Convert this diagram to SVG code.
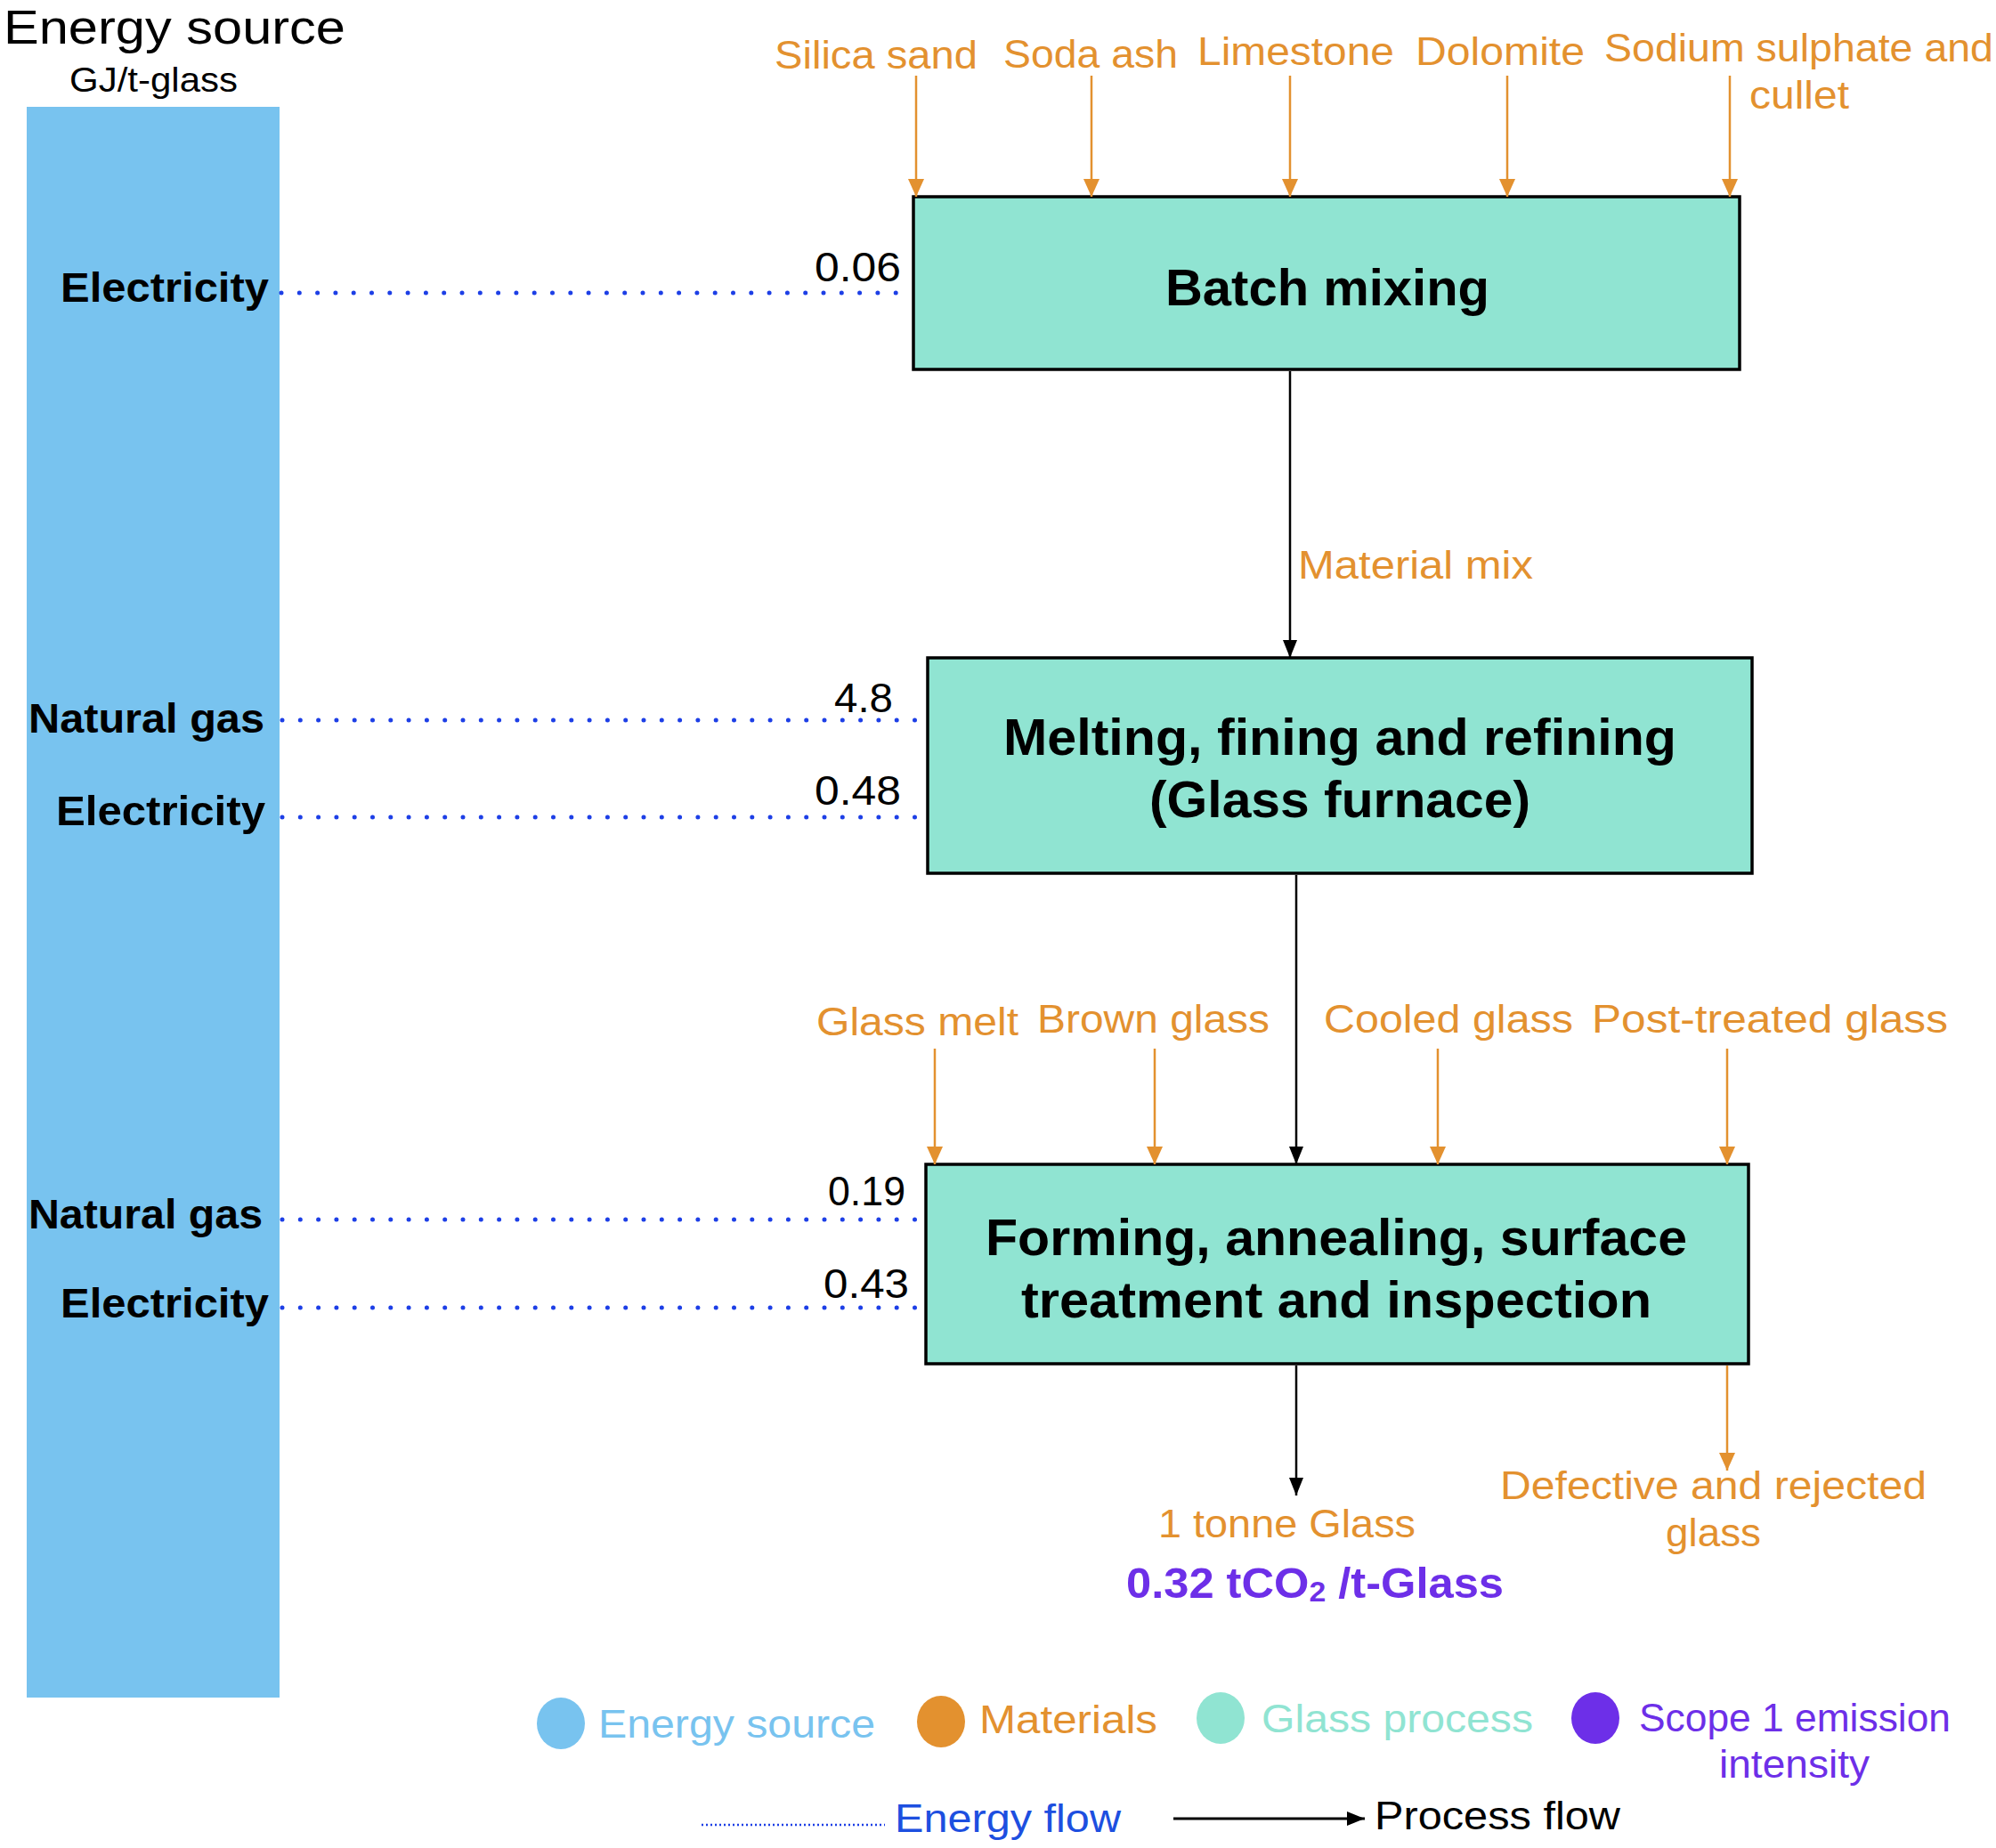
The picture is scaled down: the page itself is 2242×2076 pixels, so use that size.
<svg xmlns="http://www.w3.org/2000/svg" width="2242" height="2076" viewBox="0 0 2242 2076">
<defs>
<style>
text{font-family:"Liberation Sans",Arial,Helvetica,sans-serif}
.t-title{font-size:54px;fill:#000}
.t-unit{font-size:38px;fill:#000}
.t-src{font-size:47px;font-weight:bold;fill:#000}
.t-num{font-size:46px;fill:#000}
.t-proc{font-size:58px;font-weight:bold;fill:#000}
.t-mat{font-size:45px;fill:#E3912F}
.t-leg{font-size:45px}
.box{fill:#90E4D2;stroke:#000;stroke-width:3.5}
.energy{stroke:#1D3FE6;stroke-width:5;stroke-linecap:round;stroke-dasharray:0 20.3;fill:none}
.mat{stroke:#E3912F;stroke-width:2.5;fill:none;marker-end:url(#arrO)}
.flow{stroke:#000;stroke-width:2.5;fill:none;marker-end:url(#arrK)}
</style>
<marker id="arrO" markerUnits="userSpaceOnUse" markerWidth="20" markerHeight="20" refX="20" refY="9" orient="auto" viewBox="0 0 20 18">
<path d="M0,0 L20,9 L0,18 z" fill="#E3912F"/>
</marker>
<marker id="arrK" markerUnits="userSpaceOnUse" markerWidth="20" markerHeight="18" refX="20" refY="8" orient="auto" viewBox="0 0 20 16">
<path d="M0,0 L20,8 L0,16 z" fill="#000"/>
</marker>
</defs>
<rect width="2242" height="2076" fill="#fff"/>

<g id="energy-source">
<text class="t-title" x="4" y="49" textLength="384" lengthAdjust="spacingAndGlyphs">Energy source</text>
<text class="t-unit" x="78" y="103" textLength="189" lengthAdjust="spacingAndGlyphs">GJ/t-glass</text>
<rect x="30" y="120" width="284" height="1787" fill="#78C3EF"/>
<text class="t-src" x="68" y="339" textLength="234" lengthAdjust="spacingAndGlyphs">Electricity</text>
<text class="t-src" x="32" y="823" textLength="265" lengthAdjust="spacingAndGlyphs">Natural gas</text>
<text class="t-src" x="63" y="927" textLength="235" lengthAdjust="spacingAndGlyphs">Electricity</text>
<text class="t-src" x="32" y="1380" textLength="263" lengthAdjust="spacingAndGlyphs">Natural gas</text>
<text class="t-src" x="68" y="1480" textLength="234" lengthAdjust="spacingAndGlyphs">Electricity</text>
</g>

<g id="batch-mixing">
<rect class="box" x="1026" y="221" width="928" height="194"/>
<text class="t-proc" x="1309" y="343" textLength="364" lengthAdjust="spacingAndGlyphs">Batch mixing</text>
</g>

<g id="melting">
<rect class="box" x="1042" y="739" width="926" height="242"/>
<text class="t-proc" x="1127" y="848" textLength="756" lengthAdjust="spacingAndGlyphs">Melting, fining and refining</text>
<text class="t-proc" x="1291" y="918" textLength="428" lengthAdjust="spacingAndGlyphs">(Glass furnace)</text>
</g>

<g id="forming">
<rect class="box" x="1040" y="1308" width="924" height="224"/>
<text class="t-proc" x="1107" y="1410" textLength="788" lengthAdjust="spacingAndGlyphs">Forming, annealing, surface</text>
<text class="t-proc" x="1147" y="1480" textLength="708" lengthAdjust="spacingAndGlyphs">treatment and inspection</text>
</g>

<g id="materials">
<text class="t-mat" x="870" y="77" textLength="228" lengthAdjust="spacingAndGlyphs">Silica sand</text>
<text class="t-mat" x="1127" y="76" textLength="196" lengthAdjust="spacingAndGlyphs">Soda ash</text>
<text class="t-mat" x="1345" y="73" textLength="221" lengthAdjust="spacingAndGlyphs">Limestone</text>
<text class="t-mat" x="1590" y="73" textLength="190" lengthAdjust="spacingAndGlyphs">Dolomite</text>
<text class="t-mat" x="1802" y="69" textLength="437" lengthAdjust="spacingAndGlyphs">Sodium sulphate and</text>
<text class="t-mat" x="1965" y="122" textLength="112" lengthAdjust="spacingAndGlyphs">cullet</text>
<text class="t-mat" x="1458" y="650" textLength="264" lengthAdjust="spacingAndGlyphs">Material mix</text>
<text class="t-mat" x="917" y="1163" textLength="227" lengthAdjust="spacingAndGlyphs">Glass melt</text>
<text class="t-mat" x="1165" y="1160" textLength="261" lengthAdjust="spacingAndGlyphs">Brown glass</text>
<text class="t-mat" x="1487" y="1160" textLength="280" lengthAdjust="spacingAndGlyphs">Cooled glass</text>
<text class="t-mat" x="1788" y="1160" textLength="400" lengthAdjust="spacingAndGlyphs">Post-treated glass</text>
<text class="t-mat" x="1685" y="1684" textLength="479" lengthAdjust="spacingAndGlyphs">Defective and rejected</text>
<text class="t-mat" x="1871" y="1737" textLength="107" lengthAdjust="spacingAndGlyphs">glass</text>
<text class="t-mat" x="1301" y="1727" textLength="289" lengthAdjust="spacingAndGlyphs">1 tonne Glass</text>
</g>

<g id="emission">
<text x="1265" y="1795" font-size="48" font-weight="bold" fill="#6D2FE8" textLength="424" lengthAdjust="spacingAndGlyphs">0.32 tCO<tspan font-size="32" dy="4">2</tspan><tspan dy="-4"> /t-Glass</tspan></text>
</g>

<g id="energy-values">
<text class="t-num" x="915" y="316" textLength="97" lengthAdjust="spacingAndGlyphs">0.06</text>
<text class="t-num" x="937" y="800" textLength="66" lengthAdjust="spacingAndGlyphs">4.8</text>
<text class="t-num" x="915" y="904" textLength="97" lengthAdjust="spacingAndGlyphs">0.48</text>
<text class="t-num" x="930" y="1354" textLength="87" lengthAdjust="spacingAndGlyphs">0.19</text>
<text class="t-num" x="925" y="1458" textLength="96" lengthAdjust="spacingAndGlyphs">0.43</text>
</g>

<g id="connectors">
<line class="energy" x1="316" y1="329" x2="1026" y2="329"/>
<line class="energy" x1="317" y1="809" x2="1032" y2="809"/>
<line class="energy" x1="317" y1="918" x2="1032" y2="918"/>
<line class="energy" x1="317" y1="1370" x2="1035" y2="1370"/>
<line class="energy" x1="317" y1="1469" x2="1035" y2="1469"/>

<line class="mat" x1="1029" y1="85" x2="1029" y2="221"/>
<line class="mat" x1="1226" y1="85" x2="1226" y2="221"/>
<line class="mat" x1="1449" y1="85" x2="1449" y2="221"/>
<line class="mat" x1="1693" y1="85" x2="1693" y2="221"/>
<line class="mat" x1="1943" y1="85" x2="1943" y2="221"/>

<line class="flow" x1="1449" y1="417" x2="1449" y2="739"/>
<line class="flow" x1="1456" y1="983" x2="1456" y2="1308"/>

<line class="mat" x1="1050" y1="1178" x2="1050" y2="1308"/>
<line class="mat" x1="1297" y1="1178" x2="1297" y2="1308"/>
<line class="mat" x1="1615" y1="1178" x2="1615" y2="1308"/>
<line class="mat" x1="1940" y1="1178" x2="1940" y2="1308"/>

<line class="flow" x1="1456" y1="1534" x2="1456" y2="1680"/>
<line class="mat" x1="1940" y1="1534" x2="1940" y2="1652"/>
</g>

<g id="legend">
<ellipse cx="630" cy="1936" rx="27" ry="29" fill="#78C3EF"/>
<text class="t-leg" x="672" y="1952" fill="#78C3EF" textLength="311" lengthAdjust="spacingAndGlyphs">Energy source</text>
<ellipse cx="1057" cy="1934" rx="27" ry="29" fill="#E3912F"/>
<text class="t-leg" x="1100" y="1947" fill="#E3912F" textLength="200" lengthAdjust="spacingAndGlyphs">Materials</text>
<ellipse cx="1371" cy="1930" rx="27" ry="29" fill="#90E4D2"/>
<text class="t-leg" x="1417" y="1946" fill="#90E4D2" textLength="305" lengthAdjust="spacingAndGlyphs">Glass process</text>
<ellipse cx="1792" cy="1930" rx="27" ry="29" fill="#6D2FE8"/>
<text class="t-leg" x="1841" y="1945" fill="#6D2FE8" textLength="350" lengthAdjust="spacingAndGlyphs">Scope 1 emission</text>
<text class="t-leg" x="1931" y="1997" fill="#6D2FE8" textLength="169" lengthAdjust="spacingAndGlyphs">intensity</text>
<line x1="788" y1="2050" x2="994" y2="2050" stroke="#1D3FE6" stroke-width="2.5" stroke-dasharray="2 3"/>
<text class="t-leg" x="1005" y="2058" fill="#1D4FE0" textLength="254" lengthAdjust="spacingAndGlyphs">Energy flow</text>
<line x1="1318" y1="2043" x2="1533" y2="2043" stroke="#000" stroke-width="3" marker-end="url(#arrK)"/>
<text class="t-leg" x="1544" y="2055" fill="#000" textLength="276" lengthAdjust="spacingAndGlyphs">Process flow</text>
</g>
</svg>
